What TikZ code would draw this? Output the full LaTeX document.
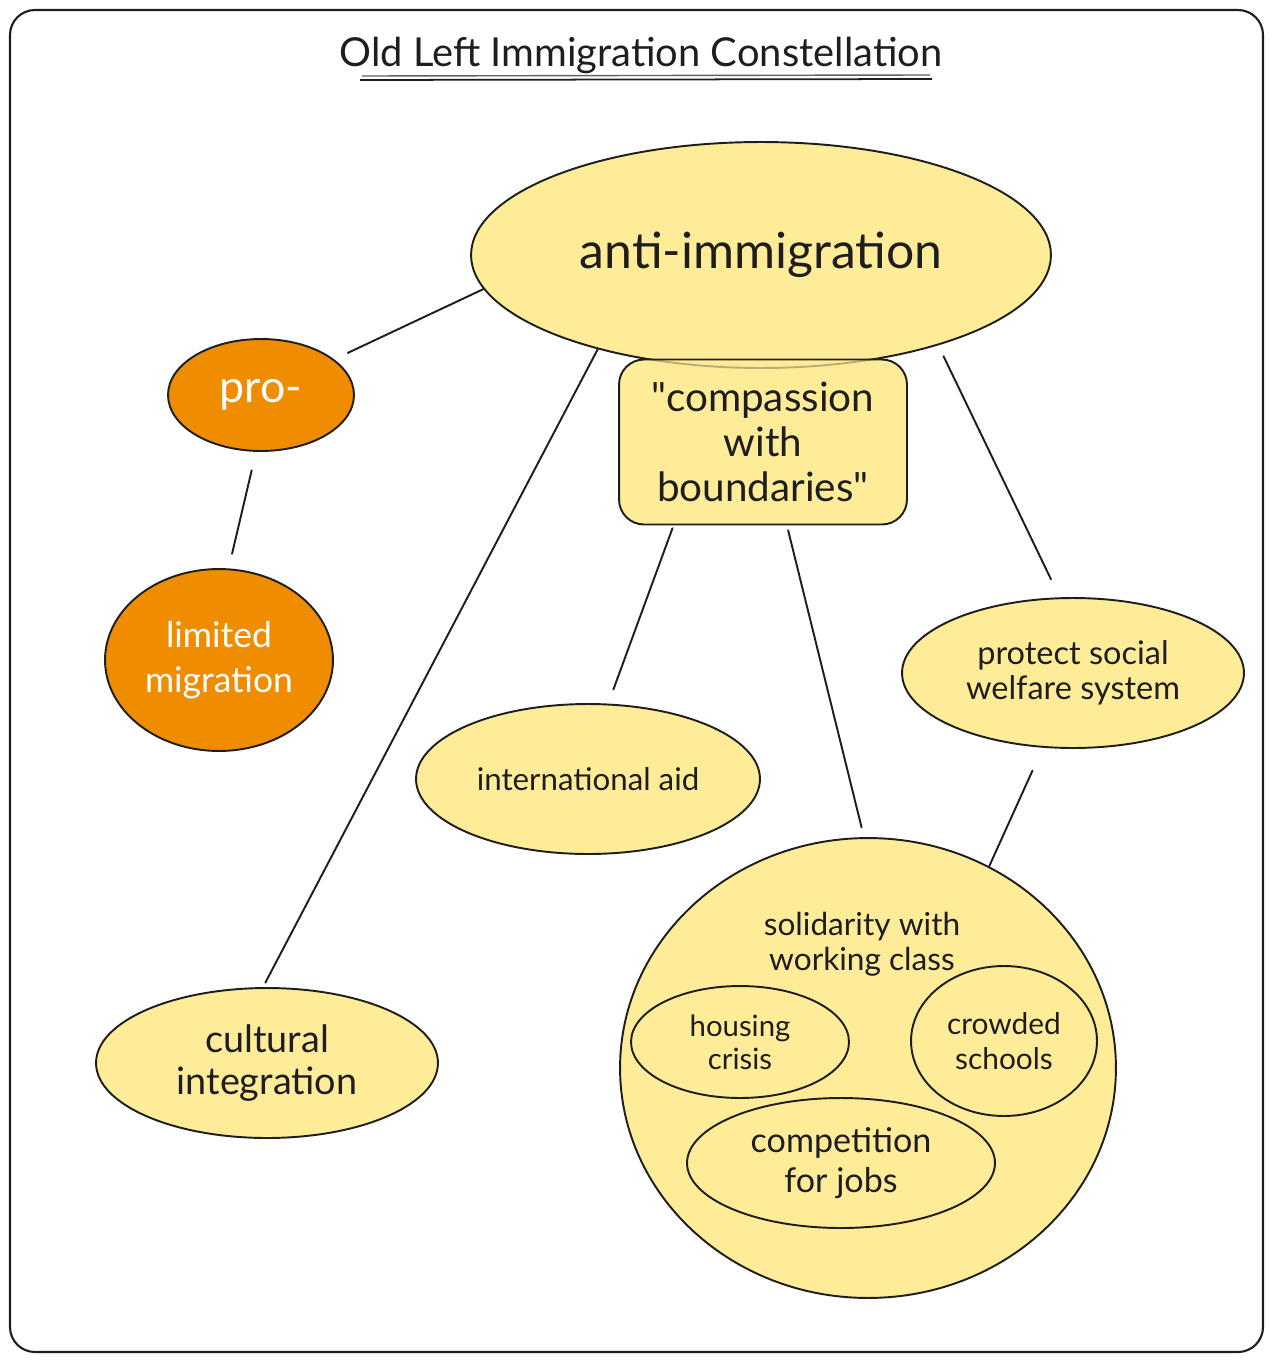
\documentclass[tikz,border=0pt]{standalone}
\usepackage{fontspec}
\setmainfont{Lato}[Ligatures=TeXOff]
\usepackage{tikz}
\usetikzlibrary{shapes.geometric}
\definecolor{ink}{HTML}{1E1E1E}
\definecolor{paleyellow}{HTML}{FFEC99}
\definecolor{deeporange}{HTML}{F08C00}
\tikzstyle{bubble} = [ellipse, inner sep=0pt, draw=ink, line width=1.1pt, fill=paleyellow, text=ink, align=center]
\tikzstyle{hotbubble} = [bubble, fill=deeporange, text=white]
\tikzstyle{box} = [rectangle, rounded corners=0.5cm, inner sep=0pt, draw=ink, line width=1.1pt, fill=paleyellow, text=ink, align=center]
\tikzstyle{link} = [draw=ink, line width=1.1pt, line cap=round]

\begin{document}
\begin{tikzpicture}[x=0.02cm, y=-0.02cm]
\useasboundingbox (0,0) rectangle (1273,1362);
\draw [ink, line width=1.2pt, rounded corners=0.5cm] (10,10) rectangle (1263,1352);

% title
\node (title) [text=ink, font=\fontsize{22.7}{26}\selectfont] at (641,55) {Old Left Immigration Constellation};
\draw [ink!70, line width=0.8pt] (362,76) -- (930,75);
\draw [ink, line width=1pt] (360,80) -- (932,79);

% nodes
\node (anti) [bubble, minimum width=11.6cm, minimum height=4.52cm, font=\fontsize{28.4}{32}\selectfont] at (761,255) {anti-immigration};
\node (comp) [box, minimum width=5.76cm, minimum height=3.3cm, font=\fontsize{23}{25.5}\selectfont] at (763,442) {"compassion\\with\\boundaries"};
% faint outline of the big ellipse showing through the box
\begin{scope}
\clip (comp.north west) rectangle (comp.south east);
\draw [ink, opacity=0.3, line width=1.1pt] (anti.center) ellipse [x radius=5.8cm, y radius=2.26cm];
\end{scope}
\node (pro) [hotbubble, minimum width=3.72cm, minimum height=2.24cm, font=\fontsize{25.5}{28}\selectfont] at (261,395) {pro-};
\node (limited) [hotbubble, minimum width=4.56cm, minimum height=3.64cm, font=\fontsize{20.2}{25.5}\selectfont] at (219,660) {limited\\migration};
\node (protect) [bubble, minimum width=6.84cm, minimum height=3cm, font=\fontsize{18.5}{20}\selectfont] at (1073,673) {protect social\\welfare system};
\node (intl) [bubble, minimum width=6.88cm, minimum height=3cm, font=\fontsize{17.8}{20}\selectfont] at (588,779) {international aid};
\node (cultural) [bubble, minimum width=6.84cm, minimum height=3cm, font=\fontsize{21.5}{24.4}\selectfont] at (267,1063) {cultural\\integration};
\node (solid) [bubble, minimum width=9.92cm, minimum height=9.2cm] at (868,1068) {};
\node (solidlabel) [text=ink, align=center, font=\fontsize{18}{20}\selectfont] at (862,944) {solidarity with\\working class};
\node (housing) [bubble, minimum width=4.36cm, minimum height=2.24cm, font=\fontsize{16.7}{19}\selectfont] at (740,1042) {housing\\crisis};
\node (crowded) [bubble, minimum width=3.72cm, minimum height=3cm, font=\fontsize{17}{20}\selectfont] at (1004,1041) {crowded\\schools};
\node (jobs) [bubble, minimum width=6.16cm, minimum height=2.6cm, font=\fontsize{19.4}{22.7}\selectfont] at (841,1163) {competition\\for jobs};

% connectors
\draw [link, shorten >=0.3cm] (anti.187) -- (pro.26);
\draw [link, shorten <=0.38cm, shorten >=0.3cm] (pro.265) -- (limited.84);
\draw [link, shorten >=0.1cm] (anti.210) -- (cultural.93);
\draw [link, shorten <=0.06cm, shorten >=0.3cm] (comp.223) -- (intl.75);
\draw [link, shorten <=0.1cm, shorten >=0.2cm] (comp.286) -- (solid.91);
\draw [link, shorten <=0.24cm, shorten >=0.4cm] (anti.333) -- (protect.100);
\draw [link, shorten <=0.5cm] (protect.248) -- (solid.59);
\end{tikzpicture}
\end{document}
